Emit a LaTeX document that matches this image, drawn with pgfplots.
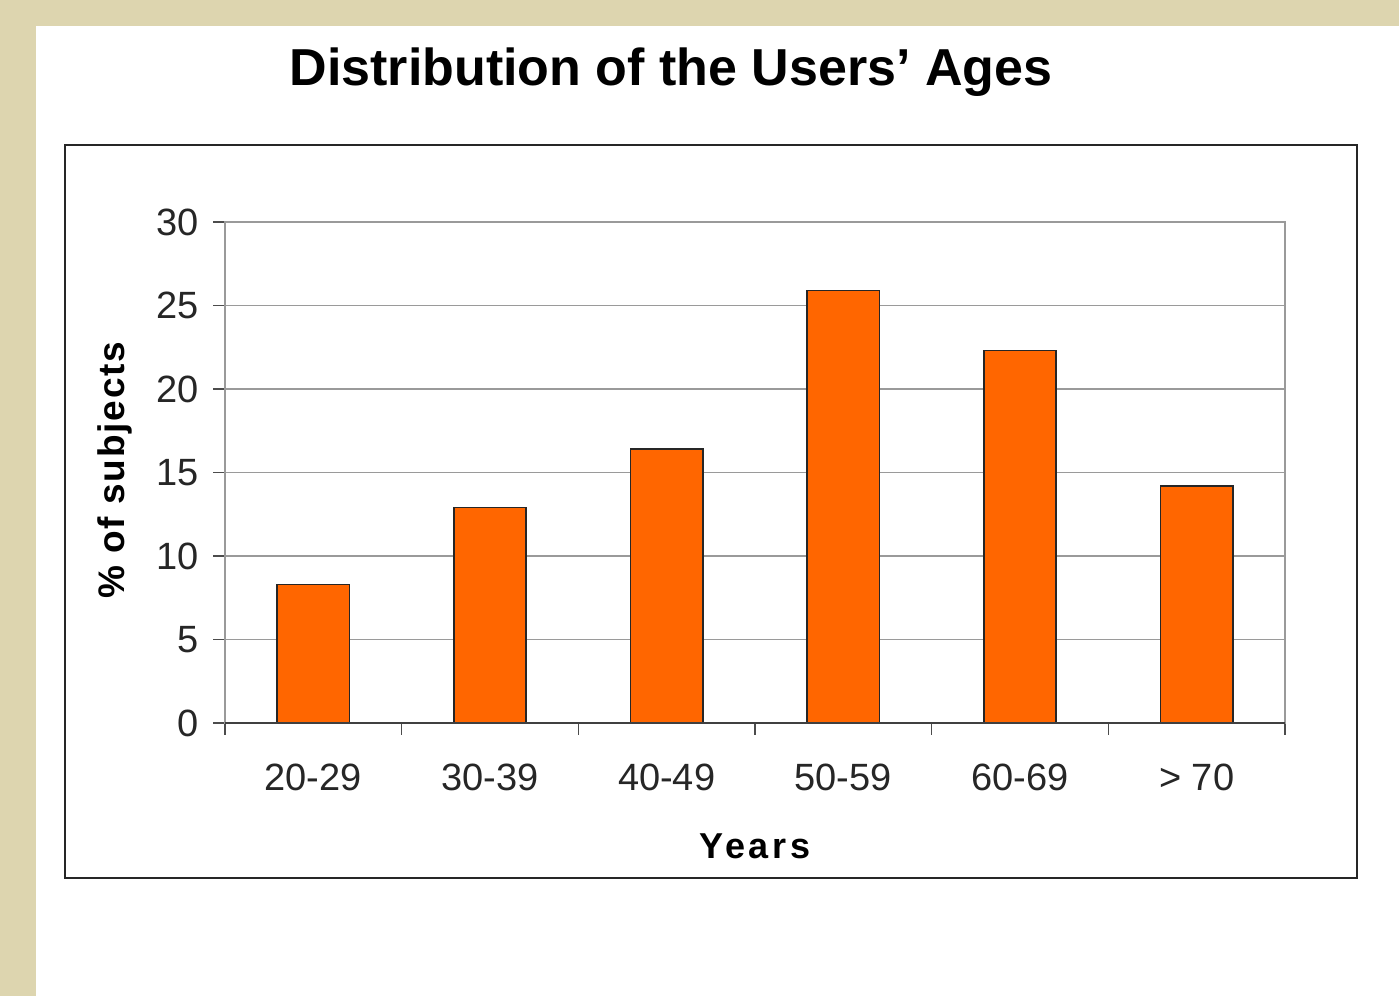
\documentclass[border=0pt]{standalone}
\usepackage{pgfplots}
\pgfplotsset{compat=1.18}
\usepackage{fontspec}
\setmainfont{Liberation Sans}
\definecolor{beige}{HTML}{DDD5AF}
\definecolor{barorange}{HTML}{FF6600}
\definecolor{gridgray}{HTML}{9A9A9A}
\begin{document}
\begin{tikzpicture}[x=0.5pt,y=0.5pt]
\fill[beige] (0,0) rectangle (1399,996);
\fill[white] (36,0) rectangle (1399,970);
\draw[line width=1.1pt, black!85] (65,118) rectangle (1357,851);
\node[font=\bfseries\fontsize{26}{30}\selectfont] at (671,924) {Distribution of the Users’ Ages};
\node[font=\bfseries\fontsize{18.5}{22}\selectfont, rotate=90] at (115,526) {\addfontfeatures{LetterSpace=5}\% of subjects};
\node[font=\bfseries\fontsize{18}{22}\selectfont] at (755,150) {\addfontfeatures{LetterSpace=10}Years};
\begin{axis}[at={(112.5pt,136.5pt)}, anchor=south west, scale only axis,
  width=530pt, height=250.5pt,
  xmin=-0.5, xmax=5.5, ymin=0, ymax=30,
  ybar, bar width=0.41,
  ytick={0,5,...,30},
  xtick={-0.5,0.5,...,5.5},
  xticklabels={},
  extra x ticks={0,1,2,3,4,5},
  extra x tick labels={20-29,30-39,40-49,50-59,60-69,> 70},
  extra x tick style={major tick length=0pt, tick style={draw=none}},
  xtick pos=bottom, ytick pos=left,
  tick align=outside,
  major tick length=6pt,
  ymajorgrids, grid style={gridgray, line width=0.7pt},
  axis line style={gridgray, line width=0.8pt},
  tick style={black!70, line width=0.7pt},
  ticklabel style={font=\fontsize{19}{22}\selectfont, text=black!85},
  xticklabel style={yshift=-17pt},
  yticklabel style={xshift=-3.5pt},
  /pgf/number format/assume math mode=true,
  clip=false,
]
\addplot[fill=barorange, draw=black!85, line width=0.8pt] coordinates {
  (0,8.3) (1,12.9) (2,16.4) (3,25.9) (4,22.3) (5,14.2)
};
\draw[black!75, line width=0.9pt] (rel axis cs:0,0) -- (rel axis cs:1,0);
\end{axis}
\end{tikzpicture}
\end{document}
